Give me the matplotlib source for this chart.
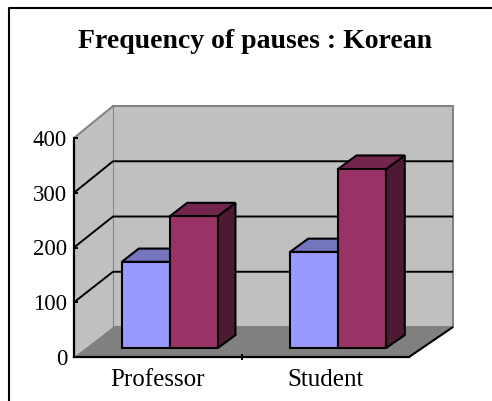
import matplotlib
matplotlib.use("Agg")
import matplotlib.pyplot as plt
from matplotlib.patches import Polygon
from matplotlib.lines import Line2D

# ---- data ----
categories = ["Professor", "Student"]
series_1 = [157, 175]   # light blue series
series_2 = [240, 326]   # maroon series
y_ticks = [0, 100, 200, 300, 400]
title = "Frequency of pauses : Korean"

plt.rcParams['font.family'] = ['Liberation Serif', 'DejaVu Serif']

W, H = 492, 401
fig = plt.figure(figsize=(W / 100, H / 100), dpi=100)
fig.patch.set_facecolor('white')

# front plane of the 3-D box (pixels)
L, R, B, T = 74, 409, 357, 138
ax = fig.add_axes([L / W, 1 - B / H, (R - L) / W, (B - T) / H])
n = len(categories)
ymax = y_ticks[-1]
ax.set_xlim(0, n)
ax.set_ylim(0, ymax)
ax.patch.set_visible(False)

px_x = (R - L) / n
px_y = (B - T) / ymax
DX = 41.5 / px_x
DY = 30 / px_y
KX, KY = 0.015, 0.009
XC = n / 2


def proj(x, v, d):
    return (XC + (x - XC) * (1 + KX * d) + DX * d, v * (1 + KY * d) + DY * d)


def poly(pts, z, **kw):
    p = Polygon(pts, closed=True, clip_on=False, zorder=z, **kw)
    ax.add_patch(p)


def line(pts, z, **kw):
    xs = [p[0] for p in pts]
    ys = [p[1] for p in pts]
    ax.plot(xs, ys, clip_on=False, zorder=z, solid_capstyle='butt', **kw)


WALL = '#c0c0c0'
FLOOR = '#808080'
EDGE = '#808080'

# back wall
poly([proj(0, 0, 1), proj(n, 0, 1), proj(n, ymax, 1), proj(0, ymax, 1)], 1,
     facecolor=WALL, edgecolor=EDGE, lw=1.4)
# side wall
poly([proj(0, 0, 0), proj(0, 0, 1), proj(0, ymax, 1), proj(0, ymax, 0)], 1.1,
     facecolor=WALL, edgecolor='none')
line([proj(0, ymax, 0), proj(0, ymax, 1)], 1.2, color=EDGE, lw=1.4)
# floor
poly([proj(0, 0, 0), proj(n, 0, 0), proj(n, 0, 1), proj(0, 0, 1)], 1.3,
     facecolor=FLOOR, edgecolor='none')
line([proj(n, 0, 0), proj(n, 0, 1)], 1.4, color='black', lw=1.5)

# gridlines
for v in y_ticks[1:-1]:
    line([proj(0, v, 0), proj(0, v, 1), proj(n, v, 1)], 1.5, color='black', lw=1.4)

# bars
shades = [('#9999ff', '#7575bd', '#4d4d80'), ('#993366', '#73264d', '#4d1933')]
bw = 48 / px_x / (1 + KX * 0.3)
d0, d1 = 0.3, 0.73
z = 3
for i in range(n):
    for j, vals in enumerate([series_1, series_2]):
        v = vals[i]
        front, top, side = shades[j]
        x0 = i + 0.5 + (j - 1) * bw
        x1 = x0 + bw
        kw = dict(edgecolor='black', lw=1.5, joinstyle='miter')
        poly([proj(x1, 0, d0), proj(x1, 0, d1), proj(x1, v, d1), proj(x1, v, d0)], z,
             facecolor=side, **kw)
        poly([proj(x0, v, d0), proj(x1, v, d0), proj(x1, v, d1), proj(x0, v, d1)], z + 0.1,
             facecolor=top, **kw)
        poly([proj(x0, 0, d0), proj(x1, 0, d0), proj(x1, v, d0), proj(x0, v, d0)], z + 0.2,
             facecolor=front, **kw)
        z += 1

# axes / ticks
for s in ['top', 'right']:
    ax.spines[s].set_visible(False)
for s in ['left', 'bottom']:
    ax.spines[s].set_color('black')
    ax.spines[s].set_linewidth(1.6)
    ax.spines[s].set_zorder(20)

ax.set_yticks(y_ticks)
ax.set_yticklabels([str(t) for t in y_ticks], fontsize=16.5)
ax.tick_params(axis='y', direction='in', length=3, width=1.4, pad=5, colors='black')

ax.set_xticks([1])
ax.set_xticklabels([''])
ax.tick_params(axis='x', which='major', direction='inout', length=5, width=1.4)
ax.set_xticks([i + 0.5 for i in range(n)], minor=True)
ax.set_xticklabels(categories, minor=True, fontsize=18)
ax.tick_params(axis='x', which='minor', length=0, pad=8.5)

# title
fig.text(255 / W, 1 - 48.5 / H, title, ha='center', va='baseline',
         fontsize=20, fontweight='bold')

# outer frame (partially visible)
fig.add_artist(Line2D([8.7 / W, 8.7 / W, 1.0], [0.0, 1 - 8 / H, 1 - 8 / H],
                      color='black', lw=1.5, transform=fig.transFigure))

fig.savefig('out.png', dpi=100)
